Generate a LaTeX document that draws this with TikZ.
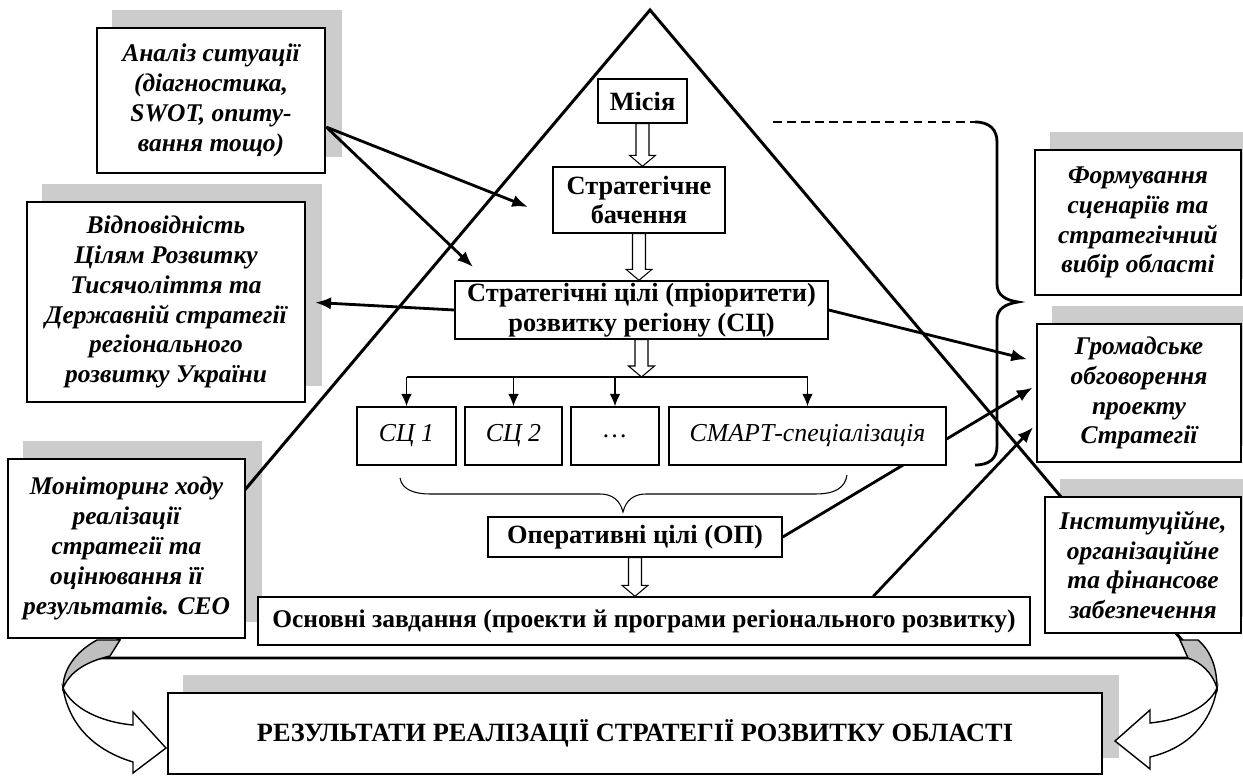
\documentclass[tikz,border=0pt]{standalone}
\usepackage{fontspec}
\setmainfont{Liberation Serif}
\usetikzlibrary{arrows.meta,calc}
\pgfdeclarelayer{bglayer}
\pgfdeclarelayer{shadowlayer}
\pgfdeclarelayer{trilayer}
\pgfsetlayers{bglayer,shadowlayer,trilayer,main}
\tikzset{
 wh/.style 2 args={minimum width=#1*0.02cm, minimum height=#2*0.02cm},
 sidebox/.style={draw, line width=1.6pt, fill=white, inner sep=0pt, align=center,
   font=\fontsize{14.5}{17}\selectfont\bfseries\itshape},
 mainbox/.style={draw, line width=0.8pt, fill=white, inner sep=0pt, align=center,
   font=\fontsize{15}{17}\selectfont\bfseries},
 scbox/.style={draw, line width=0.8pt, fill=white, inner sep=0pt, align=center,
   font=\fontsize{14.7}{17}\selectfont\itshape},
 resbox/.style={draw, line width=1.4pt, fill=white, inner sep=0pt, align=center,
   font=\fontsize{15}{17}\selectfont\bfseries},
 thickarrow/.style={line width=1.6pt, -{Latex[length=9pt,width=7pt]}},
 thinarrow/.style={line width=0.8pt, -{Latex[length=7pt,width=6pt]}},
 shadowfill/.style={fill=gray!40},
 hollow/.style={line width=0.6pt, fill=white},
 ribbon/.style={line width=0.8pt, fill=white},
}
\newcommand\boxshadow[1]{%
 \begin{pgfonlayer}{shadowlayer}
 \fill[shadowfill] ($(#1.south west)+(16,-17)$) rectangle ($(#1.north east)+(16,-17)$);
 \end{pgfonlayer}}
\newcommand\hollowarrow[2]{%
 \path (#1) coordinate (hA) (#1 |- #2) coordinate (hB);
 \draw[hollow] ($(hA)+(-6.5,0)$) -- ($(hB)+(-6.5,-11)$) -- ($(hB)+(-13,-11)$) -- (hB)
   -- ($(hB)+(13,-11)$) -- ($(hB)+(6.5,-11)$) -- ($(hA)+(6.5,0)$) -- cycle;}
\begin{document}
\begin{tikzpicture}[x=0.02cm,y=-0.02cm]
\useasboundingbox (0,0) rectangle (1243,780);
\begin{pgfonlayer}{bglayer}
\fill[white] (0,0) rectangle (1243,780);
\end{pgfonlayer}

% triangle
\begin{pgfonlayer}{trilayer}
\draw[line width=1.7pt, line join=miter] (650,10) -- (103,658) -- (1197,658) -- cycle;
\end{pgfonlayer}

% side boxes
\node[sidebox, wh={228}{145}] (A) at (211,100.5) {Аналіз ситуації\\(діагностика,\\SWOT, опиту-\\вання тощо)};
\node[sidebox, wh={278}{200}] (V) at (166,302) {Відповідність\\Цілям Розвитку\\Тисячоліття та\\Державній стратегії\\регіонального\\розвитку України};
\node[sidebox, wh={237}{179}] (M) at (126.5,548.5) {Моніторинг ходу\\реалізації\\стратегії та\\оцінювання її\\результатів. СЕО};
\node[sidebox, wh={206}{145}] (F) at (1138,222.5) {Формування\\сценаріїв та\\стратегічний\\вибір області};
\node[sidebox, wh={204}{138}] (G) at (1139,393) {Громадське\\обговорення\\проекту\\Стратегії};
\node[sidebox, wh={196}{136}] (I) at (1143,565) {Інституційне,\\організаційне\\та фінансове\\забезпечення};
\node[resbox, wh={934}{81}] (R) at (635,733.5) {РЕЗУЛЬТАТИ РЕАЛІЗАЦІЇ СТРАТЕГІЇ РОЗВИТКУ ОБЛАСТІ};
\foreach \b in {A,V,M,F,G,I,R} {\boxshadow{\b}}

% inner boxes
\node[mainbox, wh={89}{44}] (Mi) at (642.5,101) {Місія};
\node[mainbox, wh={172}{66}] (B) at (639,200) {Стратегічне\\бачення};
\node[mainbox, wh={373}{58}] (C) at (641.5,310) {Стратегічні цілі (пріоритети)\\розвитку регіону (СЦ)};
\node[scbox, wh={99}{58}] (S1) at (406.5,436) {СЦ 1};
\node[scbox, wh={97}{58}] (S2) at (513.5,436) {СЦ 2};
\node[scbox, wh={88}{58}] (S3) at (615,436) {…};
\node[scbox, wh={277}{58}] (S4) at (807.5,436) {СМАРТ-спеціалізація};
\node[mainbox, wh={294}{40}] (O) at (635,537) {Оперативні цілі (ОП)};
\node[mainbox, wh={772}{48}, font=\fontsize{14.5}{17}\selectfont\bfseries] (Z) at (644,621) {Основні завдання (проекти й програми регіонального розвитку)};

% hollow arrows
\coordinate (br) at (642,377);
\hollowarrow{Mi.south}{B.north}
\hollowarrow{B.south}{C.north}
\hollowarrow{C.south}{br}
\hollowarrow{O.south}{Z.north}

% branch to SC boxes
\draw[line width=0.8pt] (S1.north |- br) -- (S4.north |- br);
\foreach \n in {S1,S2,S3,S4} {\draw[thinarrow] (\n.north |- br) -- (\n.north);}

% brace under SC boxes
\draw[line width=0.6pt] (400,478) .. controls (402,490) and (415,494) .. (430,494) -- (600,494)
  .. controls (612,494) and (620,500) .. (623,512) .. controls (626,500) and (634,494) .. (646,494)
  -- (815,494) .. controls (835,494) and (845,488) .. (847,475);

% right big brace with dashed leader
\coordinate (dl) at (773,122);
\coordinate (bt) at (975,122);
\draw[line width=1.6pt, dash pattern=on 5pt off 3pt] (dl) -- (bt);
\draw[line width=1.6pt] (bt) .. controls (990,122) and (997,130) .. (997,142) -- (997,284)
  .. controls (997,295) and (1005,300) .. (1018,302) .. controls (1005,304) and (997,309) .. (997,320)
  -- (997,446) .. controls (997,458) and (990,465) .. (975,465);

% thick arrows
\coordinate (tA1) at (528,207);
\coordinate (tA2) at (473,267);
\draw[thickarrow] (A.-13) -- (tA1);
\draw[thickarrow] (A.-13) -- (tA2);
\draw[thickarrow, shorten >=5pt] (C.west) -- (V.east);
\draw[thickarrow, shorten >=5pt] (C.east) -- (G.163);
\begin{pgfonlayer}{trilayer}
\draw[thickarrow, shorten >=2pt] (O.east) -- (G.176);
\end{pgfonlayer}
\coordinate (z0) at ($(Z.north)!0.593!(Z.north east)$);
\draw[thickarrow, shorten >=2pt] (z0) -- (G.197);

% bottom curved ribbon arrows
\filldraw[line width=0.8pt, fill=gray!50] (97,640) .. controls (75,652) and (63,670) .. (63,688)
  .. controls (70,672) and (85,662) .. (110,656) -- (120,640) -- cycle;
\draw[ribbon] (63,688) .. controls (72,708) and (100,722) .. (133,725) -- (133,712) -- (166,748)
  -- (133,773) -- (133,762) .. controls (100,752) and (70,730) .. (63,688) -- cycle;
\filldraw[line width=0.8pt, fill=gray!50] (1198,640) .. controls (1212,652) and (1217,670) .. (1217,688)
  .. controls (1212,672) and (1200,662) .. (1188,658) -- (1180,640) -- cycle;
\draw[ribbon] (1217,688) .. controls (1208,708) and (1180,720) .. (1150,723) -- (1150,710) -- (1115,741)
  -- (1150,769) -- (1150,757) .. controls (1180,750) and (1210,730) .. (1217,688) -- cycle;
\end{tikzpicture}
\end{document}
